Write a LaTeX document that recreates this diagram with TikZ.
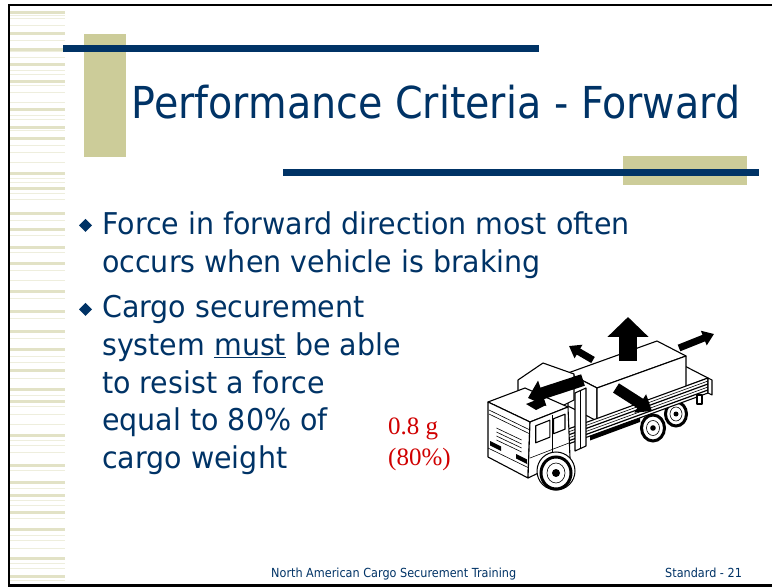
\documentclass[tikz,border=0pt]{standalone}
\usepackage{fontspec}
\usetikzlibrary{arrows.meta}
\newfontfamily\titlefont{DejaVu Sans}[FakeStretch=0.9]
\newfontfamily\bodyfont{DejaVu Sans}[FakeStretch=0.95]
\newfontfamily\redfont{Liberation Serif}
\definecolor{navy}{HTML}{003366}
\definecolor{khaki}{HTML}{CCCC99}
\definecolor{stripeA}{HTML}{E2E2C6}
\definecolor{stripeB}{HTML}{EEEEDD}
\definecolor{redtxt}{HTML}{D00000}
\begin{document}
\begin{tikzpicture}[x=1pt,y=-1pt,
  txt/.style={inner sep=0pt, anchor=base west},
  bodytxt/.style={txt, text=navy, font=\bodyfont\fontsize{30}{36}\selectfont},
  foot/.style={txt, text=navy, font=\titlefont\fontsize{12.5}{15}\selectfont},
  redt/.style={txt, text=redtxt, font=\redfont\fontsize{25}{30}\selectfont},
  tl/.style={draw=black, line width=1.1pt, fill=white, line join=round},
  thin/.style={draw=black, line width=0.6pt},
  fat/.style n args={3}{draw=black, line width=#1pt, -{Triangle[width=#2pt,length=#3pt]}},
  tire/.style={draw=black, line width=3pt, fill=white}]
\useasboundingbox (0,0) rectangle (772,588);
\fill[white] (0,0) rectangle (772,588);
% left stripes
\foreach \y in {11,32,48,63,80,108,126,137,172,187,212,228,246,262,290,310,330,348,369,388,400,434,464,481,494,511,528,557,575}
  \fill[stripeA] (10,\y) rectangle (65,\y+3);
\foreach \y in {15,18,25,40,51,57,70,74,85,92,102,115,119,130,145,152,162,178,182,193,199,220,235,252,270,280,298,318,338,356,362,378,395,406,414,424,440,445,452,470,488,500,505,518,535,540,548,563,568,580}
  \fill[stripeB] (10,\y) rectangle (65,\y+1.4);
% frame
\draw[line width=2.5pt] (772,5) -- (9,5) -- (9,585.5) -- (772,585.5);
% title decorations
\fill[khaki] (84,34) rectangle (126,157);
\fill[navy] (63,45) rectangle (539,52);
\fill[khaki] (623,156) rectangle (747,185);
\fill[navy] (283,169) rectangle (759,176);
\node[txt, text=navy, font=\titlefont\fontsize{44}{50}\selectfont] (title) at (131.5,119) {Performance Criteria - Forward};
% bullets
\fill[navy] (85.5,219) -- (92,225.5) -- (85.5,232) -- (79,225.5) -- cycle;
\fill[navy] (85.5,303) -- (92,309.5) -- (85.5,316) -- (79,309.5) -- cycle;
\node[bodytxt] (l1) at (102,235) {Force in forward direction most often};
\node[bodytxt] (l2) at (102,273) {occurs when vehicle is braking};
\node[bodytxt] (l3) at (102,318) {Cargo securement};
\node[bodytxt] (l4) at (102,355.5) {system \underline{must} be able};
\node[bodytxt] (l5) at (102,393) {to resist a force};
\node[bodytxt] (l6) at (102,430.5) {equal to 80\% of};
\node[bodytxt] (l7) at (102,468) {cargo weight};
% red label
\node[redt] (r1) at (388,434) {0.8 g};
\node[redt] (r2) at (388,465) {(80\%)};
% footer
\node[foot] (f1) at (271,577) {North American Cargo Securement Training};
\node[foot] (f2) at (665,577) {Standard - 21};
% ---------------- truck ----------------
% bed surface
\filldraw[tl] (560,433) -- (708,378) -- (673,360) -- (540,408) -- cycle;
% cargo box
\filldraw[tl] (568,373) -- (657,341) -- (686,356) -- (597,388) -- cycle;
\filldraw[tl] (568,373) -- (597,388) -- (597,421) -- (568,406) -- cycle;
\filldraw[tl] (597,388) -- (686,356) -- (686,389) -- (597,421) -- cycle;
% rear wheels
\filldraw[tire] (676,414) ellipse [x radius=10.5, y radius=12];
\draw[thin] (676,414) ellipse [x radius=6, y radius=7];
\fill (676,414) circle (2.5);
\filldraw[tire] (653,428) ellipse [x radius=11.5, y radius=13];
\draw[thin] (653,428) ellipse [x radius=6.5, y radius=7.5];
\fill (653,428) circle (2.8);
% rail
\filldraw[tl] (560,432) -- (708,378) -- (708,393) -- (560,447) -- cycle;
\draw[thin] (560,435) -- (708,381);
\draw[line width=1.2pt] (560,438) -- (708,384);
\draw[thin] (560,441) -- (708,387);
\draw[line width=1.2pt] (560,444) -- (708,390);
\filldraw[tl] (708,378) -- (712,380) -- (712,395) -- (708,393) -- cycle;
\filldraw[tl] (697,395) rectangle (702,404);
\fill (590,436) -- (640,417.8) -- (640,422) -- (590,440.5) -- cycle;
% headboard
\filldraw[tl] (575,393) -- (586,388) -- (586,446) -- (575,451) -- cycle;
\draw[thin] (580.5,391) -- (580.5,448.5);
% cab: air deflector
\filldraw[tl] (518,394) -- (518,380) -- (543,363) -- (574,374) -- (574,400) -- (562,406) -- cycle;
% roof
\filldraw[tl] (488,402) -- (525,388) -- (568,407) -- (530,422) -- cycle;
\fill (526,404) -- (536,400) -- (546,405) -- (536,410) -- cycle;
% front face
\filldraw[tl] (488,402) -- (530,422) -- (528,478) -- (488,457) -- cycle;
\draw[thin] (489,410) -- (530,430);
\draw[thin] (489,414) -- (530,434);
\foreach \t in {22,26,30,34}
  \draw[thin] (496.4,406+\t) -- (521.6,418+\t);
\fill (490,441) -- (501,446.5) -- (501,451) -- (490,445.5) -- cycle;
\fill (516,454) -- (527,459.5) -- (527,464) -- (516,458.5) -- cycle;
\draw[thin] (488,448) -- (529,468);
% side face
\filldraw[tl] (530,422) -- (568,407) -- (570,458) -- (528,478) -- cycle;
\filldraw[tl] (535.7,425.8) -- (549.8,420.2) -- (549.8,437.2) -- (535.7,442.8) -- cycle;
\filldraw[tl] (553.6,418.7) -- (565.0,414.2) -- (565.0,429.2) -- (553.6,433.7) -- cycle;
\draw[thin] (552,415) -- (552,457);
\draw[thin] (530,458) -- (569,443);
% front wheel
\filldraw[fill=white, draw=black, line width=1pt] (556,471) ellipse [x radius=19, y radius=19];
\filldraw[tire] (556,473) ellipse [x radius=15, y radius=16];
\draw[thin] (556,473) ellipse [x radius=9, y radius=10];
\fill (556,473) circle (4);
% force arrows
\draw[fat={12}{26}{15}] (583,380) -- (528,398);
\draw[fat={18}{40}{20}] (628,361) -- (628,317);
\draw[fat={7}{15}{11}] (679,348) -- (714,334);
\draw[fat={7}{15}{11}] (593,360) -- (569,346);
\draw[fat={11}{21}{14}] (616,388) -- (652,411);
\end{tikzpicture}
\end{document}
